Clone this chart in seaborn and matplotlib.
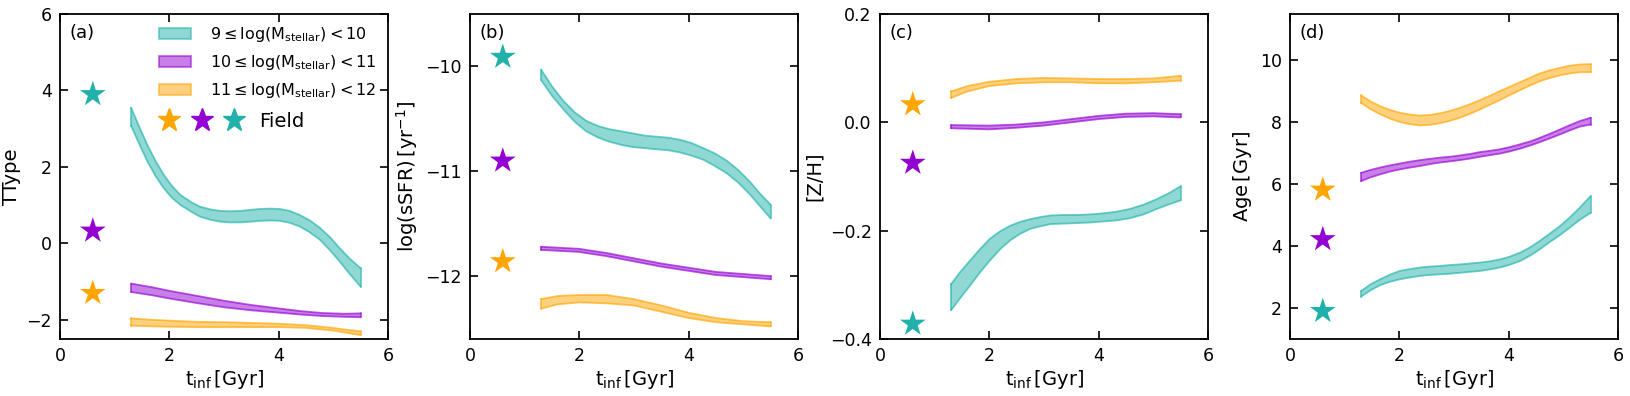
import numpy as np
import pandas as pd
import matplotlib
matplotlib.use("Agg")
import matplotlib.pyplot as plt
import seaborn as sns
from matplotlib.patches import Patch
from matplotlib.lines import Line2D
from matplotlib.legend_handler import HandlerTuple

sns.set_style("ticks", {"axes.edgecolor": "black", "text.color": "black",
                        "xtick.color": "black", "ytick.color": "black",
                        "axes.labelcolor": "black"})
plt.rcParams['font.family'] = ['DejaVu Sans']
plt.rcParams['mathtext.fontset'] = 'dejavusans'

# ---------------- data ----------------
bins = ["low", "mid", "high"]
bin_labels = [r"$9 \leq \mathrm{log(M_{stellar})} < 10$",
              r"$10 \leq \mathrm{log(M_{stellar})} < 11$",
              r"$11 \leq \mathrm{log(M_{stellar})} < 12$"]
colors = {"low": "#20B2AA", "mid": "#9400D3", "high": "#FFA500"}

field_x = 0.6

# Panel (a) TType
a_low_x = [1.3, 1.45, 1.6, 1.75, 1.9, 2.05, 2.2, 2.4, 2.56, 2.75, 2.93, 3.1, 3.3, 3.5, 3.66, 3.85, 4.02, 4.2, 4.39, 4.57, 4.76, 4.94, 5.12, 5.3, 5.5]
a_low_up = [3.55, 3.05, 2.57, 2.15, 1.79, 1.50, 1.27, 1.08, 0.96, 0.89, 0.85, 0.84, 0.85, 0.88, 0.90, 0.91, 0.90, 0.85, 0.74, 0.60, 0.40, 0.16, -0.13, -0.40, -0.65]
a_low_lo = [3.08, 2.60, 2.14, 1.76, 1.44, 1.19, 1.01, 0.83, 0.70, 0.62, 0.57, 0.55, 0.55, 0.57, 0.59, 0.60, 0.59, 0.54, 0.44, 0.29, 0.09, -0.18, -0.48, -0.80, -1.13]
a_mid_x = [1.3, 1.7, 2.0, 2.5, 3.0, 3.5, 4.0, 4.4, 4.8, 5.2, 5.5]
a_mid_up = [-1.05, -1.15, -1.24, -1.37, -1.50, -1.61, -1.70, -1.77, -1.82, -1.84, -1.83]
a_mid_lo = [-1.27, -1.36, -1.44, -1.56, -1.67, -1.75, -1.81, -1.86, -1.90, -1.92, -1.93]
a_high_x = [1.3, 1.7, 2.0, 2.5, 3.0, 3.5, 4.0, 4.5, 5.0, 5.25, 5.5]
a_high_up = [-1.96, -2.00, -2.02, -2.05, -2.06, -2.08, -2.10, -2.14, -2.21, -2.26, -2.30]
a_high_lo = [-2.15, -2.17, -2.18, -2.19, -2.19, -2.19, -2.19, -2.21, -2.28, -2.34, -2.40]
a_field = {"low": 3.9, "mid": 0.33, "high": -1.3}

# Panel (b) log(sSFR)
b_low_x = [1.3, 1.5, 1.71, 1.92, 2.13, 2.35, 2.56, 2.78, 2.99, 3.2, 3.41, 3.63, 3.84, 4.05, 4.27, 4.48, 4.7, 4.91, 5.12, 5.3, 5.5]
b_low_up = [-10.03, -10.19, -10.33, -10.44, -10.52, -10.57, -10.60, -10.62, -10.64, -10.66, -10.67, -10.68, -10.70, -10.73, -10.78, -10.83, -10.90, -10.99, -11.10, -11.21, -11.32]
b_low_lo = [-10.13, -10.28, -10.41, -10.53, -10.62, -10.68, -10.72, -10.75, -10.77, -10.78, -10.79, -10.80, -10.82, -10.85, -10.89, -10.95, -11.02, -11.11, -11.22, -11.33, -11.45]
b_mid_x = [1.3, 2.0, 2.5, 3.0, 3.5, 4.0, 4.5, 5.0, 5.5]
b_mid_up = [-11.72, -11.74, -11.78, -11.83, -11.88, -11.92, -11.96, -11.98, -12.00]
b_mid_lo = [-11.75, -11.77, -11.81, -11.86, -11.91, -11.95, -11.99, -12.01, -12.03]
b_high_x = [1.3, 1.6, 2.0, 2.5, 3.0, 3.5, 4.0, 4.5, 5.0, 5.5]
b_high_up = [-12.22, -12.19, -12.18, -12.18, -12.22, -12.28, -12.35, -12.40, -12.43, -12.44]
b_high_lo = [-12.31, -12.27, -12.25, -12.26, -12.28, -12.34, -12.40, -12.44, -12.46, -12.48]
b_field = {"low": -9.91, "mid": -10.9, "high": -11.86}

# Panel (c) [Z/H]
c_low_x = [1.3, 1.47, 1.65, 1.83, 2.01, 2.2, 2.38, 2.56, 2.74, 2.93, 3.11, 3.35, 3.6, 3.84, 4.08, 4.33, 4.57, 4.82, 5.06, 5.3, 5.5]
c_low_up = [-0.299, -0.276, -0.255, -0.234, -0.215, -0.201, -0.191, -0.184, -0.179, -0.175, -0.172, -0.171, -0.171, -0.170, -0.168, -0.165, -0.160, -0.152, -0.142, -0.130, -0.118]
c_low_lo = [-0.347, -0.324, -0.301, -0.277, -0.255, -0.234, -0.218, -0.206, -0.197, -0.192, -0.188, -0.187, -0.186, -0.185, -0.183, -0.181, -0.177, -0.170, -0.160, -0.151, -0.144]
c_mid_x = [1.3, 2.0, 2.5, 3.0, 3.5, 4.0, 4.5, 5.0, 5.5]
c_mid_up = [-0.005, -0.006, -0.004, 0.000, 0.006, 0.012, 0.016, 0.017, 0.015]
c_mid_lo = [-0.011, -0.013, -0.010, -0.006, 0.000, 0.006, 0.010, 0.011, 0.009]
c_high_x = [1.3, 1.6, 2.0, 2.5, 3.0, 3.5, 4.0, 4.5, 5.0, 5.5]
c_high_up = [0.057, 0.067, 0.075, 0.080, 0.082, 0.081, 0.080, 0.080, 0.081, 0.086]
c_high_lo = [0.045, 0.057, 0.067, 0.072, 0.074, 0.074, 0.072, 0.072, 0.074, 0.077]
c_field = {"low": -0.372, "mid": -0.075, "high": 0.033}

# Panel (d) Age
d_x = [1.3, 1.47, 1.65, 1.83, 2.01, 2.2, 2.38, 2.56, 2.74, 2.93, 3.11, 3.3, 3.48, 3.66, 3.84, 4.02, 4.21, 4.39, 4.57, 4.75, 4.94, 5.12, 5.3, 5.5]
d_low_up = [2.55, 2.76, 2.93, 3.08, 3.20, 3.26, 3.31, 3.34, 3.36, 3.39, 3.41, 3.44, 3.47, 3.51, 3.57, 3.66, 3.79, 3.96, 4.17, 4.40, 4.65, 4.93, 5.24, 5.62]
d_low_lo = [2.37, 2.57, 2.74, 2.85, 2.93, 2.99, 3.04, 3.07, 3.09, 3.11, 3.14, 3.17, 3.20, 3.25, 3.31, 3.40, 3.52, 3.69, 3.90, 4.13, 4.36, 4.60, 4.85, 5.08]
d_mid_up = [6.37, 6.46, 6.54, 6.61, 6.67, 6.73, 6.78, 6.82, 6.86, 6.89, 6.93, 6.98, 7.04, 7.08, 7.13, 7.20, 7.29, 7.38, 7.50, 7.63, 7.77, 7.91, 8.04, 8.15]
d_mid_lo = [6.10, 6.22, 6.32, 6.41, 6.48, 6.54, 6.59, 6.65, 6.70, 6.74, 6.78, 6.83, 6.89, 6.94, 6.99, 7.06, 7.15, 7.25, 7.36, 7.48, 7.61, 7.74, 7.86, 7.93]
d_high_up = [8.87, 8.68, 8.52, 8.40, 8.31, 8.25, 8.22, 8.24, 8.29, 8.37, 8.47, 8.59, 8.72, 8.86, 9.01, 9.15, 9.30, 9.44, 9.58, 9.68, 9.76, 9.83, 9.87, 9.88]
d_high_lo = [8.63, 8.43, 8.26, 8.12, 8.01, 7.94, 7.90, 7.92, 7.97, 8.05, 8.15, 8.28, 8.42, 8.57, 8.72, 8.88, 9.04, 9.19, 9.33, 9.43, 9.52, 9.58, 9.62, 9.62]
d_field = {"low": 1.9, "mid": 4.22, "high": 5.82}

panels = [
    dict(tag="(a)", ylabel="TType", ylim=(-2.5, 6), yticks=[-2, 0, 2, 4, 6],
         bands={"low": (a_low_x, a_low_up, a_low_lo), "mid": (a_mid_x, a_mid_up, a_mid_lo),
                "high": (a_high_x, a_high_up, a_high_lo)}, field=a_field),
    dict(tag="(b)", ylabel=r"$\mathrm{log(sSFR)\,[yr^{-1}]}$", ylim=(-12.6, -9.5), yticks=[-12, -11, -10],
         bands={"low": (b_low_x, b_low_up, b_low_lo), "mid": (b_mid_x, b_mid_up, b_mid_lo),
                "high": (b_high_x, b_high_up, b_high_lo)}, field=b_field),
    dict(tag="(c)", ylabel="[Z/H]", ylim=(-0.4, 0.2), yticks=[-0.4, -0.2, 0.0, 0.2],
         bands={"low": (c_low_x, c_low_up, c_low_lo), "mid": (c_mid_x, c_mid_up, c_mid_lo),
                "high": (c_high_x, c_high_up, c_high_lo)}, field=c_field),
    dict(tag="(d)", ylabel=r"Age$\,$[Gyr]", ylim=(1, 11.5), yticks=[2, 4, 6, 8, 10],
         bands={"low": (d_x, d_low_up, d_low_lo), "mid": (d_x, d_mid_up, d_mid_lo),
                "high": (d_x, d_high_up, d_high_lo)}, field=d_field),
]

fig = plt.figure(figsize=(16.3, 3.96), dpi=100)
lefts = [60, 470, 880, 1290]
W, H = 1630, 396
axes = [fig.add_axes([l / W, 1 - 339 / H, 328 / W, 325 / H]) for l in lefts]

for ax, p in zip(axes, panels):
    for b in bins:
        x, up, lo = p["bands"][b]
        c = colors[b]
        ax.fill_between(x, lo, up, facecolor=c, alpha=0.5, edgecolor="none", zorder=2)
        df = pd.DataFrame({"x": list(x) * 2, "y": list(up) + list(lo),
                           "edge": ["up"] * len(x) + ["lo"] * len(x)})
        sns.lineplot(data=df, x="x", y="y", units="edge", estimator=None, ax=ax,
                     color=c, alpha=0.65, linewidth=1.3, zorder=3)
        ax.plot([x[0], x[0]], [lo[0], up[0]], color=c, alpha=0.65, lw=1.3, zorder=3)
        ax.plot([x[-1], x[-1]], [lo[-1], up[-1]], color=c, alpha=0.65, lw=1.3, zorder=3)
    fdf = pd.DataFrame({"x": [field_x] * 3, "y": [p["field"][b] for b in bins], "bin": bins})
    sns.scatterplot(data=fdf, x="x", y="y", hue="bin", palette=colors, marker="*",
                    s=380, linewidth=0, ax=ax, legend=False, zorder=4)
    ax.set_xlim(0, 6)
    ax.set_ylim(*p["ylim"])
    ax.set_xticks([0, 2, 4, 6])
    ax.set_yticks(p["yticks"])
    if p["tag"] == "(c)":
        ax.set_yticklabels(["\u22120.4", "\u22120.2", "0.0", "0.2"])
    ax.tick_params(direction="in", top=True, right=True, length=6, width=1.2,
                   labelsize=12.5, pad=6, colors="black")
    for s in ax.spines.values():
        s.set_linewidth(1.3)
        s.set_color("black")
    ax.set_xlabel(r"$\mathrm{t_{inf}\,[Gyr]}$", fontsize=14, labelpad=2)
    ax.set_ylabel(p["ylabel"], fontsize=14, labelpad=4)
    ax.text(0.03, 0.97, p["tag"], transform=ax.transAxes, ha="left", va="top", fontsize=13)

# legend on panel (a)
handles = [Patch(facecolor=colors[b], alpha=0.5, edgecolor=colors[b], linewidth=1.5) for b in bins]
leg = axes[0].legend(handles, bin_labels, loc="upper right", frameon=False, fontsize=11.5,
                     handlelength=2.0, handletextpad=1.2, borderaxespad=0.3,
                     labelspacing=0.55)
axes[0].add_artist(leg)

star_handles = tuple(Line2D([], [], marker="*", color=colors[b], linestyle="none", markersize=17)
                     for b in ["high", "mid", "low"])
leg2 = axes[0].legend([star_handles], ["Field"],
                      handler_map={tuple: HandlerTuple(ndivide=None, pad=0.0)},
                      loc="upper left", bbox_to_anchor=(0.284, 0.70), frameon=False,
                      fontsize=14, handlelength=5.0, handletextpad=0.45,
                      borderpad=0.0, borderaxespad=0.0)

fig.savefig("out.png", dpi=100)
